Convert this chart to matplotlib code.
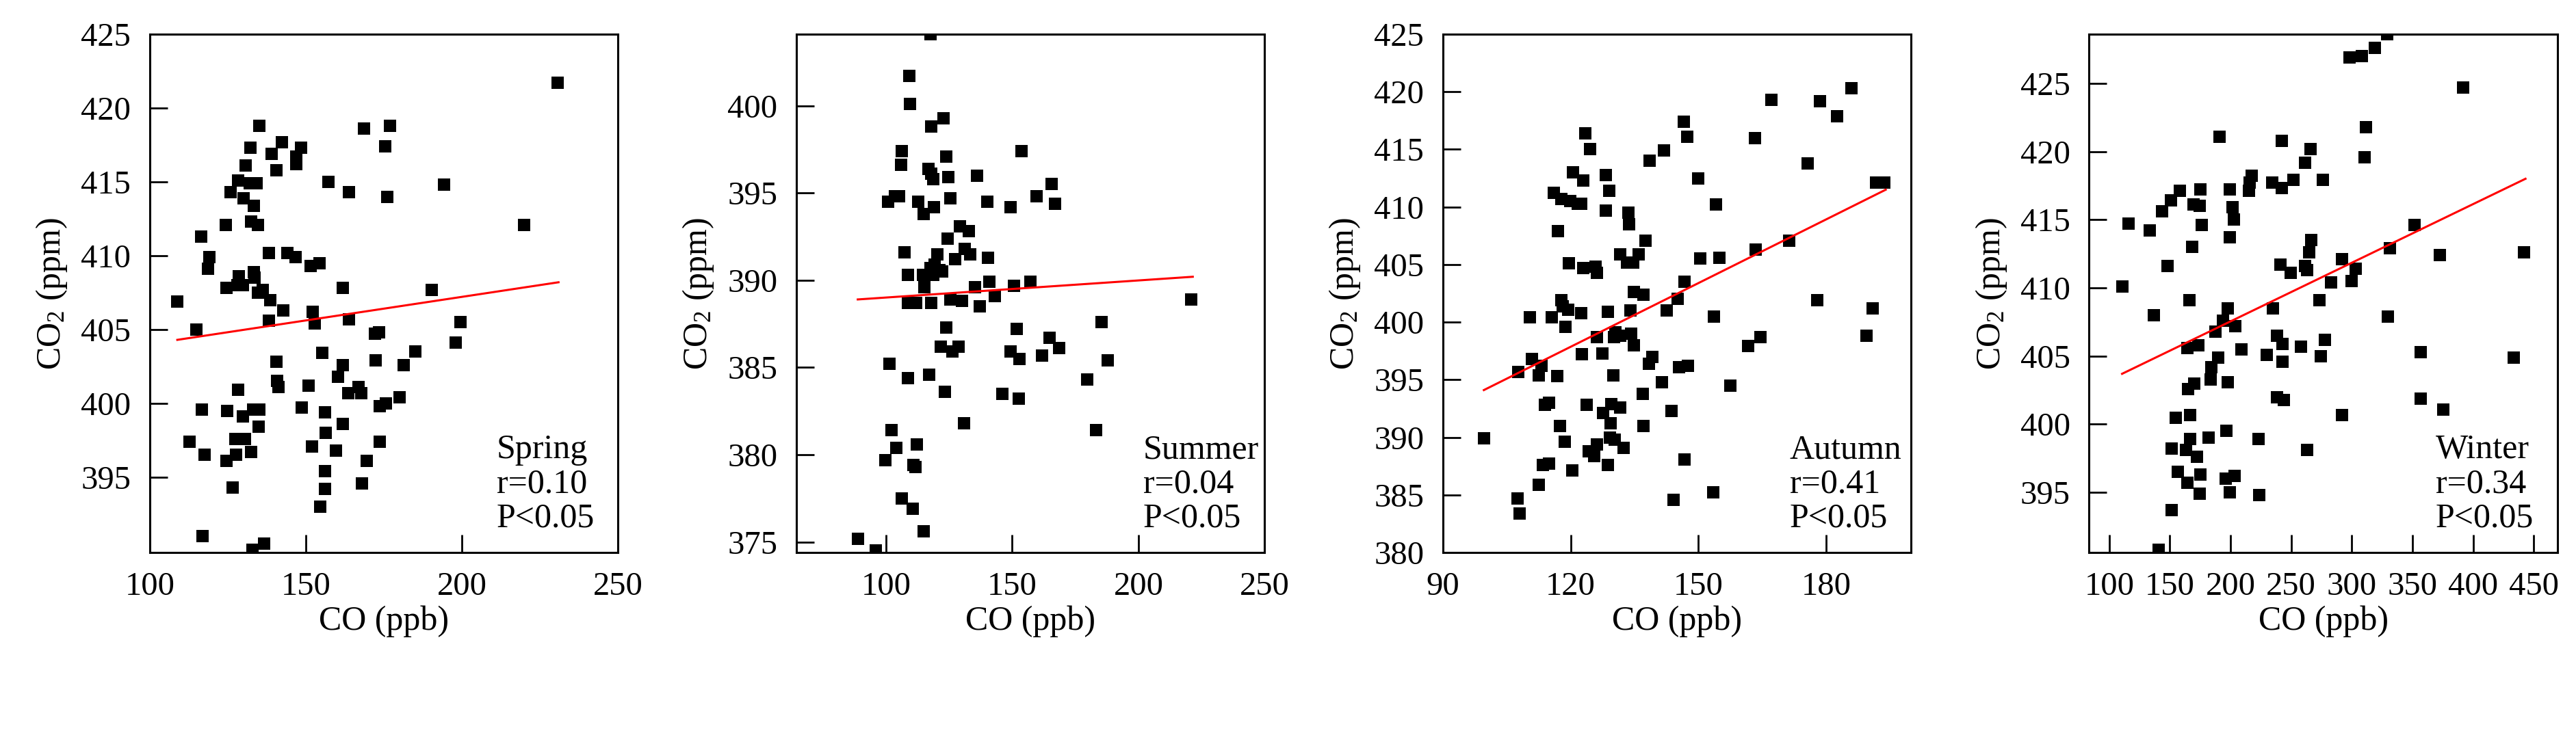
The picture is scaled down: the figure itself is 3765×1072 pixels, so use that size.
import numpy as np
import matplotlib
matplotlib.use('Agg')
import matplotlib.pyplot as plt

plt.rcParams['font.family'] = 'serif'
plt.rcParams['font.serif'] = ['Liberation Serif', 'DejaVu Serif']
plt.rcParams['mathtext.default'] = 'regular'

# values, one block per season
spring_co = [230.5, 135.1, 176.9, 168.5, 142.2, 132.2, 148.5, 139.1, 146.8, 147.0,
             175.3, 130.7, 140.5, 157.3, 128.3, 132.1, 134.1, 125.8, 130.1, 133.4,
             163.8, 176.1, 194.2, 124.3, 132.5, 134.7, 219.8, 116.4, 119.1, 118.7,
             138.2, 144.1, 146.6, 151.4, 154.4, 128.4, 133.3, 133.5, 124.6, 128.0,
             129.9, 136.2, 134.7, 138.5, 142.7, 161.8, 190.3, 108.8, 138.2, 152.2,
             152.9, 163.7, 199.5, 115.0, 172.1, 173.5, 197.9, 155.3, 185.1, 140.6,
             172.4, 161.7, 181.3, 160.2, 140.7, 141.3, 150.9, 128.3, 163.6, 166.8,
             167.8, 179.9, 175.6, 173.6, 116.7, 124.8, 129.8, 133.1, 135.1, 148.6,
             156.0, 134.9, 161.8, 156.4, 112.7, 127.4, 130.5, 152.0, 173.7, 159.6,
             117.5, 127.6, 132.5, 124.6, 169.5, 156.0, 126.6, 156.2, 168.0, 154.5,
             116.8, 136.6, 132.9]
spring_co2 = [421.7, 418.8, 418.8, 418.6, 417.7, 417.3, 417.3, 416.9, 416.7, 416.2,
              417.4, 416.1, 415.8, 415.0, 415.1, 414.9, 414.9, 414.3, 413.9, 413.4,
              414.3, 414.0, 414.8, 412.1, 412.3, 412.1, 412.1, 411.3, 409.9, 409.1,
              410.2, 410.2, 409.9, 409.3, 409.5, 408.6, 408.9, 408.5, 407.8, 408.0,
              408.0, 407.7, 407.5, 407.0, 406.3, 407.8, 407.7, 406.9, 405.6, 406.2,
              405.4, 405.7, 405.5, 405.0, 404.7, 404.8, 404.1, 403.4, 403.5, 402.8,
              402.9, 402.6, 402.6, 401.8, 401.5, 401.1, 401.2, 400.9, 400.7, 401.1,
              400.7, 400.4, 400.0, 399.8, 399.6, 399.5, 399.1, 399.6, 399.6, 399.7,
              399.4, 398.4, 398.6, 398.0, 397.4, 397.6, 397.6, 397.1, 397.4, 396.8,
              396.5, 396.5, 396.7, 396.1, 396.1, 395.4, 394.3, 394.2, 394.6, 393.0,
              391.0, 390.5, 390.1]

summer_co = [117.7, 109.2, 109.6, 122.9, 117.8, 106.1, 123.8, 153.6, 105.9, 116.7,
             118.0, 118.8, 124.6, 136.0, 165.7, 100.7, 103.5, 105.1, 112.7, 125.6,
             140.1, 159.6, 167.0, 114.9, 119.1, 149.3, 129.2, 132.8, 124.3, 107.4,
             120.3, 131.2, 133.3, 127.4, 140.4, 119.3, 117.7, 121.1, 122.3, 108.7,
             114.7, 118.8, 140.9, 157.3, 150.8, 135.3, 115.3, 143.2, 108.7, 111.9,
             118.0, 125.6, 130.2, 137.1, 220.8, 185.5, 123.8, 151.8, 164.7, 168.6,
             121.6, 128.7, 126.2, 149.3, 152.8, 161.7, 187.8, 101.3, 117.0, 108.7,
             179.7, 123.4, 146.2, 152.5, 131.0, 183.2, 102.1, 104.1, 112.2, 99.8,
             110.9, 111.6, 106.1, 110.7, 114.9, 88.8, 96.0]
summer_co2 = [404.1, 401.7, 400.1, 399.3, 398.8, 397.4, 397.1, 397.4, 396.6, 396.4,
              396.1, 395.8, 395.9, 396.0, 395.5, 394.5, 394.8, 394.8, 394.5, 394.7,
              394.5, 394.8, 394.4, 393.8, 394.2, 394.2, 393.1, 392.8, 392.4, 391.6,
              391.5, 391.8, 391.5, 391.2, 391.3, 390.9, 390.7, 390.6, 390.5, 390.3,
              390.3, 390.3, 389.9, 389.9, 389.7, 389.6, 389.6, 389.1, 388.7, 388.7,
              388.7, 388.9, 388.8, 388.5, 388.9, 387.6, 387.3, 387.2, 386.7, 386.1,
              386.2, 386.2, 385.9, 385.9, 385.5, 385.7, 385.4, 385.2, 384.6, 384.4,
              384.3, 383.6, 383.5, 383.2, 381.8, 381.4, 381.4, 380.4, 380.6, 379.7,
              379.4, 379.3, 377.5, 376.9, 375.6, 375.2, 374.5]

autumn_co = [186.0, 167.1, 178.5, 182.6, 146.6, 123.5, 147.4, 163.3, 124.6, 141.9,
             138.5, 175.6, 120.6, 128.3, 123.0, 150.0, 191.7, 193.6, 129.1, 116.1,
             117.8, 119.9, 121.7, 122.5, 154.2, 128.2, 133.6, 133.7, 117.0, 137.5,
             171.3, 131.7, 136.0, 133.3, 134.7, 119.6, 150.5, 155.0, 163.4, 123.0,
             125.9, 126.1, 146.7, 134.8, 137.1, 117.8, 118.2, 119.4, 122.5, 128.8,
             134.1, 142.5, 145.1, 177.9, 191.0, 110.4, 115.6, 153.7, 118.7, 130.5,
             131.6, 130.1, 134.2, 126.2, 134.8, 164.6, 189.4, 161.7, 122.7, 127.5,
             139.2, 138.4, 110.9, 113.2, 145.4, 147.5, 107.6, 112.5, 116.8, 130.0,
             141.5, 157.5, 137.0, 114.0, 114.9, 123.8, 129.5, 131.6, 127.6, 143.7,
             129.4, 117.4, 137.1, 99.6, 129.2, 130.4, 118.6, 126.2, 132.5, 124.3,
             125.5, 146.7, 113.4, 114.9, 128.8, 120.4, 112.5, 153.4, 107.5, 144.1,
             108.0]
autumn_co2 = [420.3, 419.3, 419.2, 417.9, 417.4, 416.4, 416.1, 416.0, 415.0, 414.9,
              414.0, 413.8, 413.0, 412.8, 412.3, 412.5, 412.1, 412.1, 411.4, 411.2,
              410.7, 410.5, 410.3, 410.3, 410.2, 409.7, 409.5, 408.5, 407.9, 407.1,
              407.1, 405.9, 405.9, 405.2, 405.2, 405.1, 405.5, 405.6, 406.3, 404.7,
              404.8, 404.3, 403.5, 402.6, 402.4, 401.9, 401.4, 401.1, 400.8, 400.9,
              401.0, 401.0, 402.0, 401.9, 401.2, 400.4, 400.4, 400.5, 399.6, 399.1,
              398.8, 398.7, 399.0, 398.7, 398.0, 398.7, 398.8, 397.9, 397.2, 397.3,
              397.0, 396.4, 396.8, 396.2, 396.1, 396.2, 395.7, 395.4, 395.3, 395.4,
              394.8, 394.5, 393.8, 392.8, 393.0, 392.8, 392.9, 392.6, 392.1, 392.3,
              391.2, 391.0, 391.0, 389.9, 390.0, 389.8, 389.6, 389.4, 389.1, 388.8,
              388.4, 388.1, 387.6, 387.7, 387.6, 387.1, 385.9, 385.2, 384.7, 384.6,
              383.4]

winter_co = [328.9, 318.9, 308.3, 298.4, 392.0, 311.7, 190.9, 242.1, 266.1, 310.7,
             261.6, 217.7, 216.0, 215.3, 234.2, 242.1, 252.0, 276.0, 199.2, 175.2,
             158.3, 151.1, 169.7, 174.8, 201.9, 203.0, 143.6, 115.8, 133.3, 176.5,
             351.9, 199.2, 266.8, 168.6, 331.3, 265.1, 372.8, 442.1, 148.0, 241.0,
             249.6, 261.3, 263.3, 291.8, 303.2, 299.7, 282.9, 110.6, 166.2, 273.3,
             136.7, 197.8, 234.9, 329.6, 193.7, 204.0, 187.5, 238.6, 243.1, 278.1,
             173.4, 164.5, 208.8, 257.9, 189.9, 229.7, 274.7, 356.7, 433.6, 243.1,
             184.1, 183.7, 197.8, 170.3, 164.9, 238.3, 243.8, 356.7, 375.2, 166.9,
             154.6, 292.2, 196.4, 166.6, 182.0, 223.2, 151.5, 163.5, 263.0, 172.1,
             156.3, 175.2, 196.1, 203.6, 164.2, 174.5, 199.5, 223.5, 151.5, 140.8]
winter_co2 = [428.6, 427.6, 427.0, 426.9, 424.7, 421.8, 421.1, 420.8, 420.2, 419.6,
              419.2, 418.2, 417.7, 417.1, 417.7, 417.3, 417.9, 417.9, 417.2, 417.2,
              417.1, 416.4, 416.1, 416.0, 415.9, 415.0, 415.6, 414.7, 414.2, 414.6,
              414.6, 413.7, 413.5, 413.0, 412.9, 412.6, 412.4, 412.6, 411.6, 411.7,
              411.1, 411.6, 411.3, 412.1, 411.4, 410.5, 410.4, 410.1, 409.1, 409.1,
              408.0, 408.5, 408.5, 407.9, 407.6, 407.2, 406.8, 406.5, 405.9, 406.2,
              405.8, 405.6, 405.5, 405.7, 404.9, 405.1, 405.0, 405.3, 404.9, 404.6,
              404.2, 403.3, 403.1, 403.0, 402.6, 402.0, 401.8, 401.9, 401.1, 400.7,
              400.5, 400.7, 399.5, 398.9, 399.0, 398.9, 398.2, 398.1, 398.1, 397.6,
              396.5, 396.3, 396.0, 396.2, 395.7, 394.9, 395.0, 394.8, 393.7, 390.8]

# red fit lines, end points
fit_x = [[108.8, 230.9], [88.8, 221.5], [99.6, 194.0], [110.6, 443.2]]
fit_y = [[404.3, 408.2], [388.9, 390.2], [394.1, 411.5], [403.7, 418.0]]

seasons = ['Spring', 'Summer', 'Autumn', 'Winter']
r_values = ['0.10', '0.04', '0.41', '0.34']
co_data = [spring_co, summer_co, autumn_co, winter_co]
co2_data = [spring_co2, summer_co2, autumn_co2, winter_co2]

xlims = [(100, 250), (64.5, 250), (90, 200), (83.5, 469.6)]
ylims = [(389.9, 425), (374.4, 404.1), (380, 425), (390.6, 428.6)]
xticks = [[100, 150, 200, 250], [100, 150, 200, 250], [90, 120, 150, 180],
          [100, 150, 200, 250, 300, 350, 400, 450]]
yticks = [np.arange(395, 426, 5), np.arange(375, 401, 5), np.arange(380, 426, 5),
          np.arange(395, 426, 5)]

W, H = 3766, 1072
fig = plt.figure(figsize=(W / 100, H / 100), dpi=100)
lefts = [219, 1164, 2109, 3053.5]
ax_w = 684.5
ax_bottom = 808
ax_top = 50

for i in range(4):
    ax = fig.add_axes([lefts[i] / W, 1 - ax_bottom / H, ax_w / W, (ax_bottom - ax_top) / H])
    ax.plot(co_data[i], co2_data[i], 's', color='black', markersize=12.5,
            markeredgewidth=0)
    ax.plot(fit_x[i], fit_y[i], color='red', linewidth=2.2)
    ax.set_xlim(xlims[i])
    ax.set_ylim(ylims[i])
    ax.set_xticks(xticks[i])
    ax.set_yticks(yticks[i])
    ax.tick_params(direction='in', length=19, width=2, labelsize=35, pad=20,
                   top=False, right=False)
    for sp in ax.spines.values():
        sp.set_linewidth(2.2)
    ax.set_xlabel('CO (ppb)', fontsize=36, labelpad=4)
    ax.set_ylabel('CO$_2$ (ppm)', fontsize=36, labelpad=12)
    ax.text(0.74, 0.132, seasons[i] + '\nr=' + r_values[i] + '\nP<0.05',
            transform=ax.transAxes, fontsize=36, ha='left', va='center',
            linespacing=1.1)

fig.savefig('out.png', dpi=100)
